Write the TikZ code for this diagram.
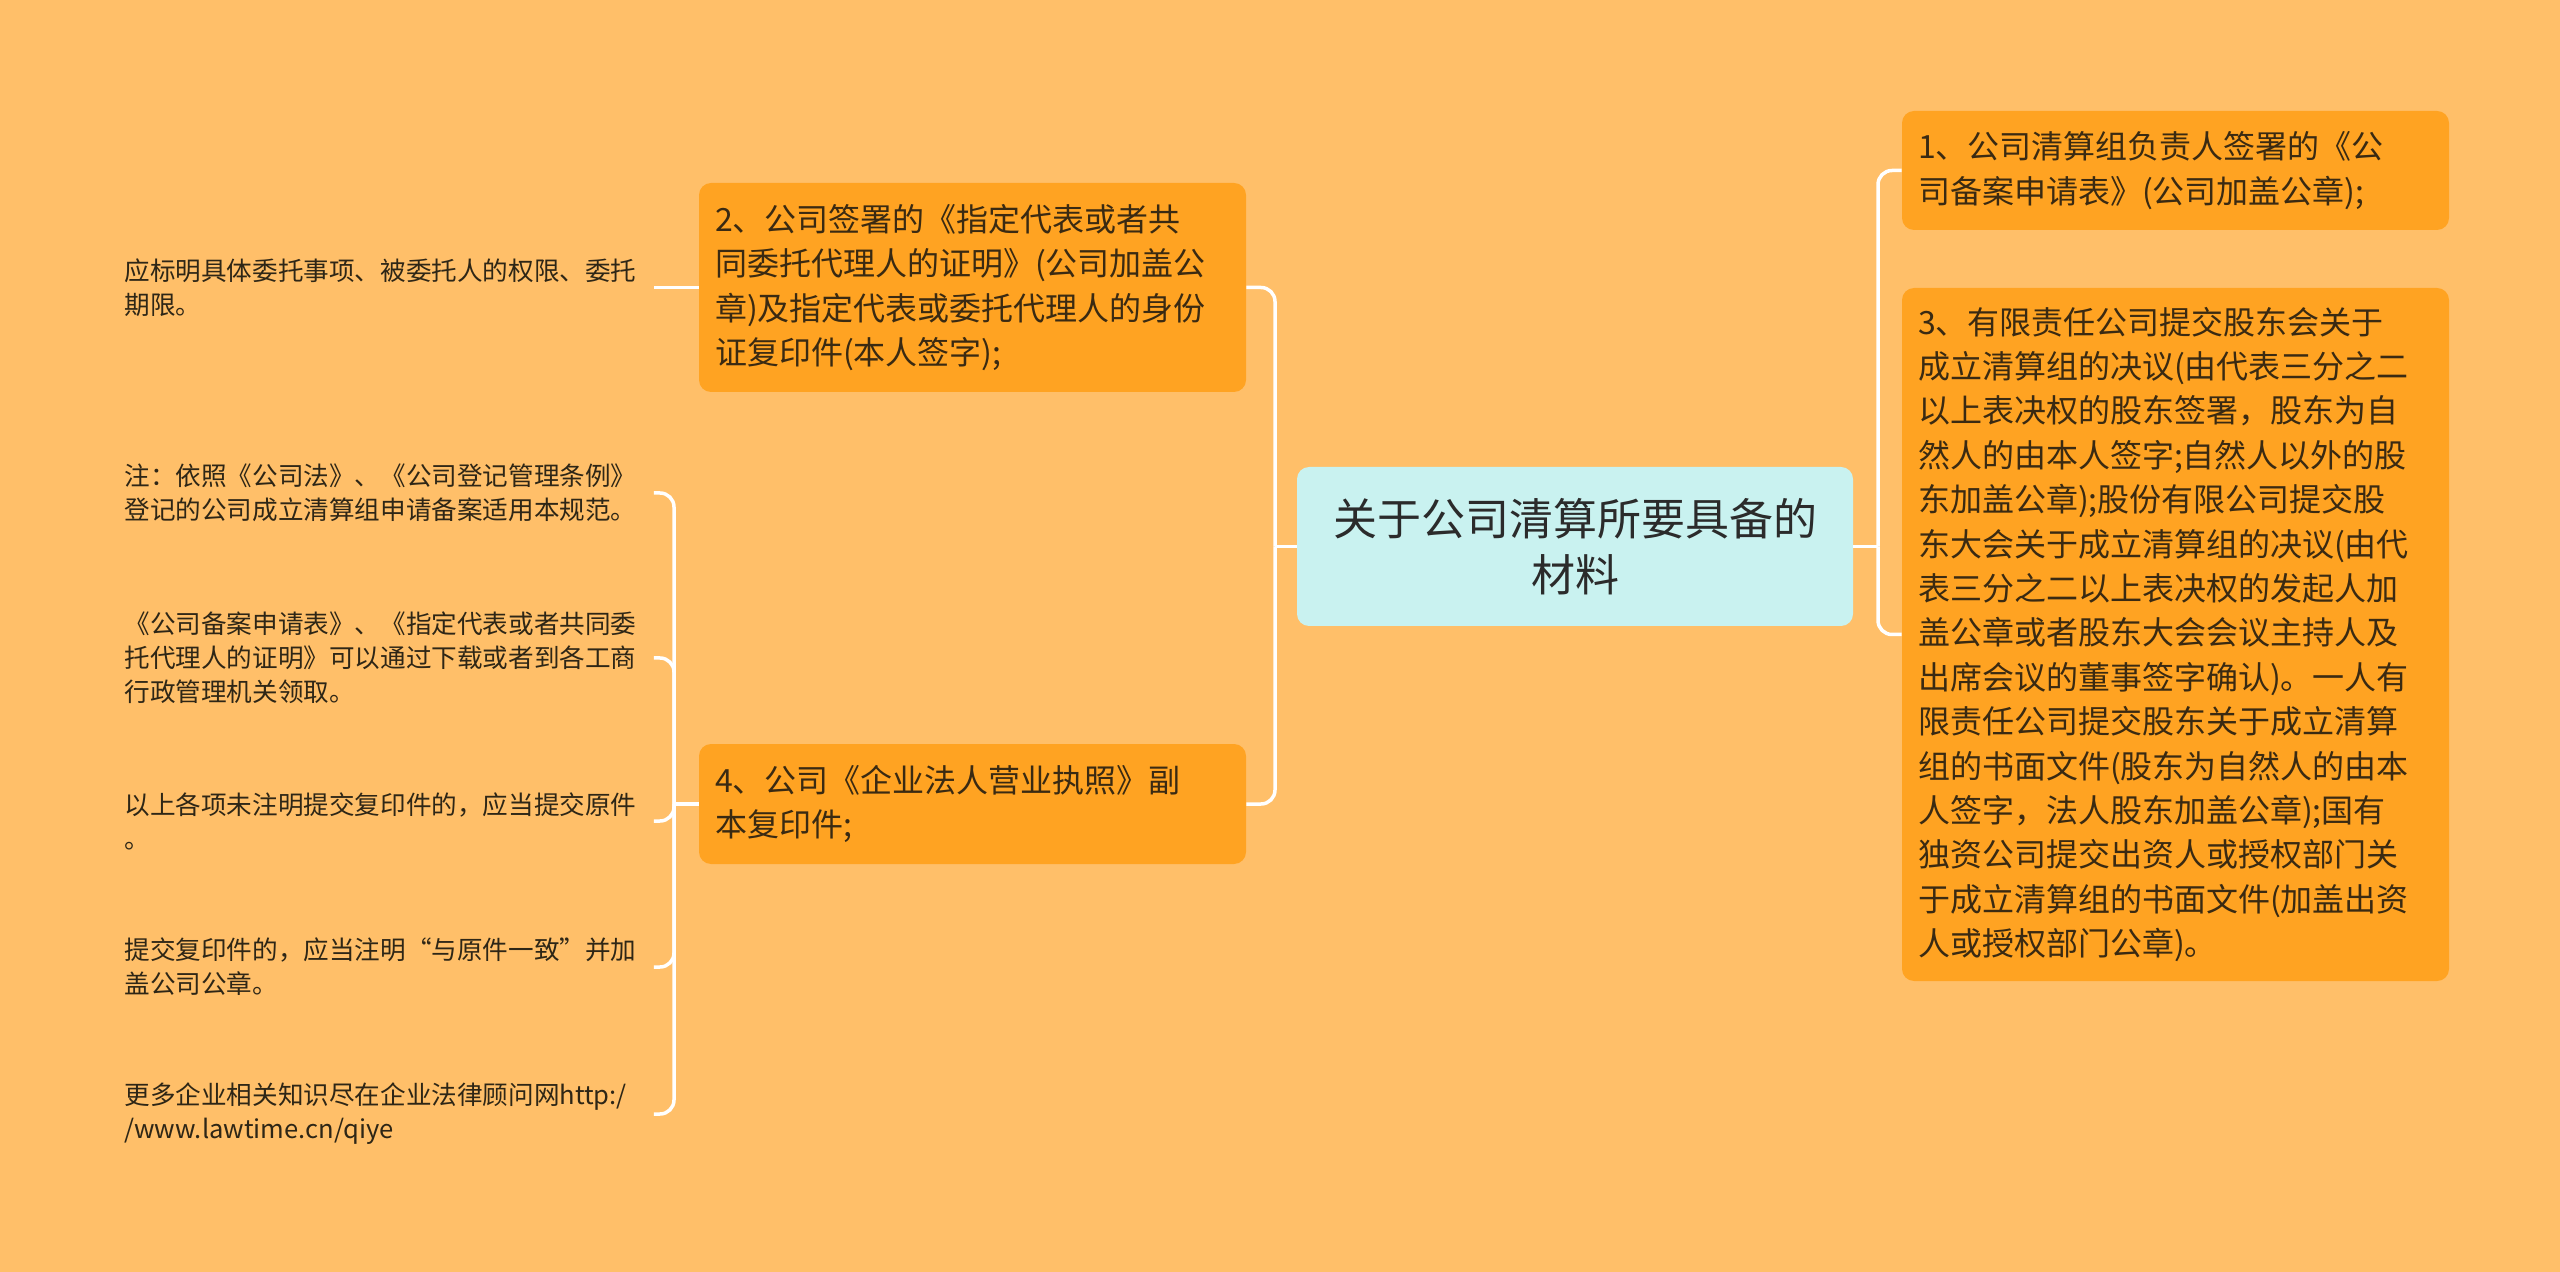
\documentclass[tikz,border=0pt]{standalone}
\usepackage{fontspec}
\newfontfamily\cjk{Noto Sans CJK SC}
\definecolor{bg}{HTML}{FFBF69}
\definecolor{orangebox}{HTML}{FFA322}
\definecolor{rootfill}{HTML}{C9F2F0}
\definecolor{roottext}{HTML}{2B2B2B}
\definecolor{nodetext}{HTML}{3A2A12}
\definecolor{leaftext}{HTML}{2E2616}
\begin{document}
\begin{tikzpicture}[x=0.5pt,y=-0.5pt,
  branch/.style={fill=orangebox, rounded corners=6pt, font=\cjk\fontsize{16}{22.2}\selectfont, text=nodetext, align=left, text width=257.5pt, inner xsep=8pt, inner ysep=0pt, minimum width=273.5pt},
  root/.style={fill=rootfill, rounded corners=6pt, minimum width=278pt, minimum height=79.5pt, font=\cjk\fontsize{22}{27.8}\selectfont, align=center, text=roottext},
  leaf/.style={anchor=west, inner sep=0pt, text width=264.5pt, align=left, font=\cjk\fontsize{12.8}{17}\selectfont, text=leaftext},
  conn/.style={draw=white, line width=1.75pt, rounded corners=7pt}]
\fill[bg] (0,0) rectangle (2560,1272);
\useasboundingbox (0,0) rectangle (2560,1272);

\node[root] (root) at (1575,546.5) {关于公司清算所要具备的\\材料};

\node[branch, minimum height=59.5pt] (n1) at (2175.5,170.5) {1、公司清算组负责人签署的《公\\司备案申请表》(公司加盖公章);};
\node[branch, minimum height=346.5pt] (n3) at (2175.5,634.5) {3、有限责任公司提交股东会关于\\成立清算组的决议(由代表三分之二\\以上表决权的股东签署，股东为自\\然人的由本人签字;自然人以外的股\\东加盖公章);股份有限公司提交股\\东大会关于成立清算组的决议(由代\\表三分之二以上表决权的发起人加\\盖公章或者股东大会会议主持人及\\出席会议的董事签字确认)。一人有\\限责任公司提交股东关于成立清算\\组的书面文件(股东为自然人的由本\\人签字，法人股东加盖公章);国有\\独资公司提交出资人或授权部门关\\于成立清算组的书面文件(加盖出资\\人或授权部门公章)。};
\node[branch, minimum height=104.5pt] (n2) at (972.5,287.5) {2、公司签署的《指定代表或者共\\同委托代理人的证明》(公司加盖公\\章)及指定代表或委托代理人的身份\\证复印件(本人签字);};
\node[branch, minimum height=60pt] (n4) at (972.5,804) {4、公司《企业法人营业执照》副\\本复印件;};

\node[leaf] (l0) at (124,287.5) {应标明具体委托事项、被委托人的权限、委托\\期限。};
\node[leaf] (l1) at (124,493) {注：依照《公司法》、《公司登记管理条例》\\登记的公司成立清算组申请备案适用本规范。};
\node[leaf] (l2) at (124,658) {《公司备案申请表》、《指定代表或者共同委\\托代理人的证明》可以通过下载或者到各工商\\行政管理机关领取。};
\node[leaf] (l3) at (124,821) {以上各项未注明提交复印件的，应当提交原件\\。};
\node[leaf] (l4) at (124,967) {提交复印件的，应当注明“与原件一致”并加\\盖公司公章。};
\node[leaf] (l5) at (124,1114) {更多企业相关知识尽在企业法律顾问网http:/\\/www.lawtime.cn/qiye};

\coordinate (rj) at (1878,546.5);
\coordinate (lj) at (1275,546.5);
\coordinate (bj) at (674,804);

\draw[conn] (root.east) -- (rj);
\draw[conn] (rj) |- (n1.west);
\draw[conn] (rj) |- (n3.west);
\draw[conn] (root.west) -- (lj);
\draw[conn] (lj) |- (n2.east);
\draw[conn] (lj) |- (n4.east);
\draw[conn] (n2.west) -- (l0.east);
\draw[conn] (n4.west) -- (bj);
\draw[conn] (bj) |- (l1.east);
\draw[conn] (bj) |- (l2.east);
\draw[conn] (bj) |- (l3.east);
\draw[conn] (bj) |- (l4.east);
\draw[conn] (bj) |- (l5.east);
\end{tikzpicture}
\end{document}
